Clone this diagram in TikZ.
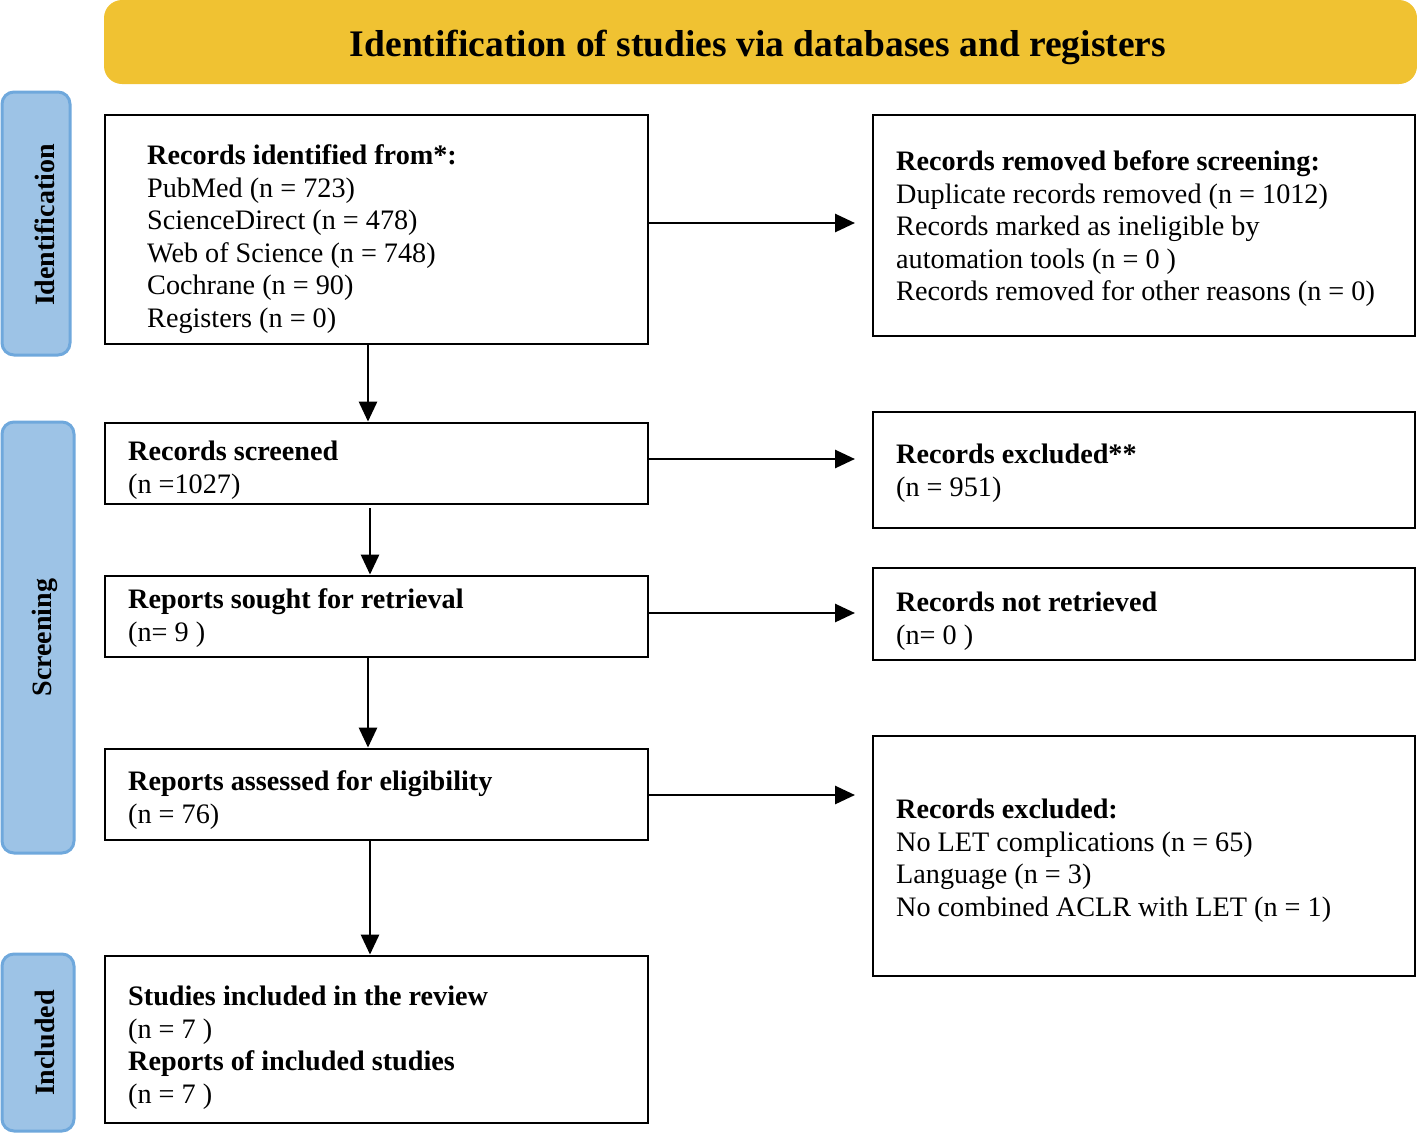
\documentclass[tikz,border=0pt]{standalone}
\usepackage{fontspec}
\setmainfont{Liberation Serif}
\usetikzlibrary{arrows.meta,fit}
\definecolor{bannercol}{HTML}{F0C232}
\definecolor{sidefill}{HTML}{9DC3E6}
\definecolor{sidedraw}{HTML}{6FA8DC}
\begin{document}
\begin{tikzpicture}[x=1pt,y=-1pt,
  flowbox/.style={draw=black, line width=2.8pt, inner sep=0pt},
  txt/.style={align=left, anchor=north west, inner sep=0pt, font=\fontsize{28.2}{32.5}\selectfont},
  arr/.style={line width=2.8pt, -{Triangle[length=20pt,width=18pt]}},
  sidebox/.style={draw=sidedraw, fill=sidefill, line width=3pt, rounded corners=12pt, inner sep=0pt},
  sidelabel/.style={rotate=90, font=\fontsize{28}{32}\selectfont\bfseries, inner sep=0pt}
]
\useasboundingbox (0,0) rectangle (1417,1133);

% banner
\node[fill=bannercol, rounded corners=18pt, inner sep=0pt, fit={(104,0) (1417,84)}] (banner) {};
\node[anchor=base, inner sep=0pt, font=\fontsize{37.5}{40}\selectfont\bfseries] (title) at (758,56) {Identification of studies via databases and registers};

% side phases
\node[sidebox, fit={(2,92) (70,355)}] (sideid) {};
\node[sidelabel] (lblid) at (45,225) {Identification};
\node[sidebox, fit={(2,422) (74,853)}] (sidescr) {};
\node[sidelabel] (lblscr) at (45,637.5) {Screening};
\node[sidebox, fit={(2,954) (74,1131)}] (sideinc) {};
\node[sidelabel] (lblinc) at (45,1043) {Included};

% boxes
\node[flowbox, fit={(105,115) (648,344)}] (b1) {};
\node[flowbox, fit={(873,115) (1415,336)}] (r1) {};
\node[flowbox, fit={(105,423) (648,504)}] (scr) {};
\node[flowbox, fit={(873,412) (1415,528)}] (excl) {};
\node[flowbox, fit={(105,576) (648,657)}] (sought) {};
\node[flowbox, fit={(873,568) (1415,660)}] (notret) {};
\node[flowbox, fit={(105,749) (648,840)}] (assess) {};
\node[flowbox, fit={(873,736) (1415,976)}] (excl2) {};
\node[flowbox, fit={(105,956) (648,1123)}] (incl) {};

% texts
\node[txt] (tb1) at (147,142) {\strut\textbf{Records identified from*:}\\PubMed (n = 723)\\ScienceDirect (n = 478)\\Web of Science (n = 748)\\Cochrane (n = 90)\\Registers (n = 0)};
\node[txt] (tr1) at (896,148) {\strut\textbf{Records removed before screening:}\\Duplicate records removed (n = 1012)\\Records marked as ineligible by\\automation tools (n = 0 )\\Records removed for other reasons (n = 0)};
\node[txt] (tscr) at (128,438) {\strut\textbf{Records screened}\\(n =1027)};
\node[txt] (texcl) at (896,441) {\strut\textbf{Records excluded**}\\(n = 951)};
\node[txt] (tsought) at (128,586) {\strut\textbf{Reports sought for retrieval}\\(n= 9 )};
\node[txt] (tnotret) at (896,589) {\strut\textbf{Records not retrieved}\\(n= 0 )};
\node[txt] (tassess) at (128,768) {\strut\textbf{Reports assessed for eligibility}\\(n = 76)};
\node[txt] (texcl2) at (896,796) {\strut\textbf{Records excluded:}\\No LET complications (n = 65)\\Language (n = 3)\\No combined ACLR with LET (n = 1)};
\node[txt] (tincl) at (128,983) {\strut\textbf{Studies included in the review}\\(n = 7 )\\\textbf{Reports of included studies}\\(n = 7 )};

% horizontal arrows
\coordinate (h1) at (855,223);
\coordinate (h2) at (855,459);
\coordinate (h3) at (855,613);
\coordinate (h4) at (855,795);
\draw[arr] (b1.east |- h1) -- (h1);
\draw[arr] (scr.east |- h2) -- (h2);
\draw[arr] (sought.east |- h3) -- (h3);
\draw[arr] (assess.east |- h4) -- (h4);

% vertical arrows
\coordinate (v1) at (368,0);
\coordinate (v2) at (370,0);
\draw[arr] (b1.south -| v1) -- (scr.north -| v1);
\draw[arr] ([yshift=-3pt]scr.south -| v2) -- (sought.north -| v2);
\draw[arr] (sought.south -| v1) -- (assess.north -| v1);
\draw[arr] (assess.south -| v2) -- (incl.north -| v2);
\end{tikzpicture}
\end{document}
